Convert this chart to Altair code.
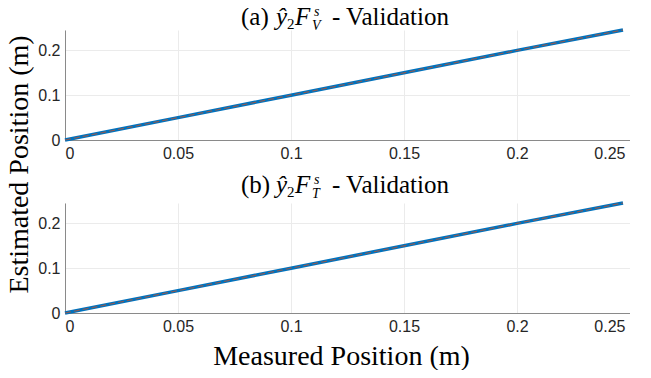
import altair as alt
import pandas as pd

# ---- data ----
measured = [0.0, 0.05, 0.10, 0.15, 0.20, 0.2469]
estimated_v = [0.0, 0.05, 0.10, 0.15, 0.20, 0.2455]
estimated_t = [0.0, 0.05, 0.10, 0.15, 0.20, 0.2455]
x_ticks = [0, 0.05, 0.1, 0.15, 0.2, 0.25]
y_ticks = [0, 0.1, 0.2]
panel_letters = ["(a)", "(b)"]
panel_subs = ["V", "T"]
x_title = "Measured Position (m)"
y_title = "Estimated Position (m)"

SERIF = "Liberation Serif"
SANS = "Liberation Sans"
BLUE = "#0072BD"
DASH = "#8a5a55"
W, H = 565, 110

last_label_shift = {"condition": {"test": "datum.value >= 0.249", "value": -5},
                    "value": 0}


def piece(text, x, y, size, style="normal"):
    return alt.Chart(alt.Data(values=[{}])).mark_text(
        text=text, align="left", baseline="alphabetic", font=SERIF,
        fontSize=size, fontStyle=style, color="#000000"
    ).encode(x=alt.value(x), y=alt.value(y))


def panel(est, letter, sub, first):
    df = pd.DataFrame({"m": measured, "e": est})
    xax = dict(values=x_ticks, format="~g", labelOffset=last_label_shift)
    if first:
        xenc = alt.X("m:Q", scale=alt.Scale(domain=[0, 0.25], nice=False),
                     axis=alt.Axis(**xax), title=None)
        yenc = alt.Y("e:Q", scale=alt.Scale(domain=[0, 0.2455], nice=False),
                     axis=alt.Axis(values=y_ticks, format="~g", titleX=-38,
                                   titleY=134, titleAngle=270,
                                   titleBaseline="alphabetic",
                                   titleAlign="center"),
                     title=y_title)
        yb = -5
    else:
        xenc = alt.X("m:Q", scale=alt.Scale(domain=[0, 0.25], nice=False),
                     axis=alt.Axis(**xax, titleX=276, titleY=51,
                                   titleBaseline="alphabetic",
                                   titleAlign="center"),
                     title=x_title)
        yenc = alt.Y("e:Q", scale=alt.Scale(domain=[0, 0.2455], nice=False),
                     axis=alt.Axis(values=y_ticks, format="~g"), title=None)
        yb = -10
    base = alt.Chart(df)
    solid = base.mark_line(color=BLUE, strokeWidth=3.5).encode(x=xenc, y=yenc)
    dashed = base.mark_line(color=DASH, strokeWidth=1.2,
                            strokeDash=[6, 3]).encode(x="m:Q", y="e:Q")
    texts = [
        piece(letter, 176, yb, 25),
        piece("ŷ", 211, yb, 25, "italic"),
        piece("2", 222, yb + 4, 15),
        piece("F", 230, yb, 25, "italic"),
        piece("s", 249, yb - 9, 14, "italic"),
        piece(sub, 247, yb + 5, 14, "italic"),
        piece("- Validation", 267, yb, 25),
    ]
    return alt.layer(solid, dashed, *texts).properties(width=W, height=H)


top = panel(estimated_v, panel_letters[0], panel_subs[0], True)
bottom = panel(estimated_t, panel_letters[1], panel_subs[1], False)

chart = alt.vconcat(top, bottom, spacing=63, bounds="flush").configure_view(
    stroke=None
).configure_axis(
    gridColor="#ebebeb", gridWidth=1, domainColor="#8a8a8a", domainWidth=1,
    ticks=False, labelFont=SANS, labelFontSize=16, labelColor="#262626",
    labelPadding=5, titleFont=SERIF, titleFontSize=28, titleFontWeight="normal",
    titleColor="#000000"
).properties(
    padding={"left": -4, "top": -3, "right": 0, "bottom": 0},
    background="#ffffff",
)

chart.save("out.html", embed_options={"renderer": "svg", "actions": False})
